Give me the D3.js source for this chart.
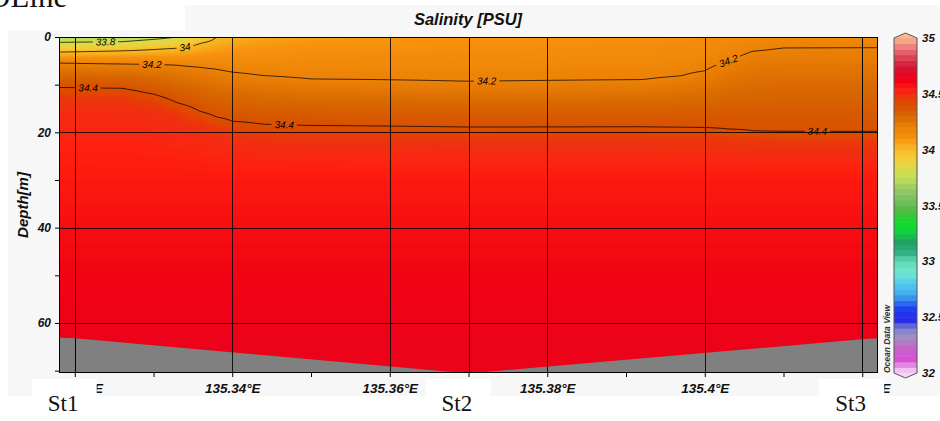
<!DOCTYPE html>
<html>
<head>
<meta charset="utf-8">
<script src="https://cdn.jsdelivr.net/npm/d3@7"></script>
<style>
  html, body { margin: 0; padding: 0; background: #fff; }
  svg { display: block; }
</style>
</head>
<body>
<svg id="chart" width="940" height="421"></svg>
<script>
// ---- Salinity section St1 - St2 - St3 (profiles given as isohaline depths) ----

// longitude of each gridded profile column
const columnLon = [135.318, 135.326, 135.330, 135.333, 135.336, 135.338, 135.340, 135.344, 135.350,
                   135.370, 135.392, 135.397, 135.400, 135.403, 135.406, 135.410, 135.422];
// salinity at the sea surface for each column
const surfaceSalinity = [33.70, 33.71, 33.75, 33.80, 33.90, 34.00, 34.03, 34.06, 34.08,
                         34.10, 34.11, 34.12, 34.13, 34.14, 34.15, 34.16, 34.16];
// depth [m] of each isohaline per column (null where it outcrops)
const depthOf33_8 = [1.13, 1.0, 0.5, null, null, null, null, null, null,
                     null, null, null, null, null, null, null, null];
const depthOf34_0 = [3.15, 2.9, 2.6, 2.3, 1.3, null, null, null, null,
                     null, null, null, null, null, null, null, null];
const depthOf34_2 = [5.46, 5.6, 5.7, 5.9, 6.35, 6.75, 7.35, 8.1, 8.8,
                     9.3, 9.0, 8.2, 7.1, 5.0, 3.0, 2.25, 2.2];
const depthOf34_4 = [10.58, 10.75, 12.0, 13.8, 15.7, 16.8, 17.7, 18.35, 18.6,
                     18.9, 18.85, 18.95, 19.05, 19.3, 19.7, 19.85, 19.9];
const depthOf34_47 = [12.6, 12.8, 14.0, 15.8, 17.7, 18.8, 19.7, 20.4, 20.6,
                      20.9, 20.9, 21.0, 21.1, 21.3, 21.7, 21.9, 21.9];
const depthOf34_5 = [15.6, 15.8, 17.0, 18.8, 20.7, 21.8, 22.7, 23.4, 23.6,
                     23.9, 23.9, 24.0, 24.1, 24.3, 24.7, 24.9, 24.9];
const isoLevels = [33.8, 34.0, 34.2, 34.4, 34.47, 34.5];
const isoDepths = [depthOf33_8, depthOf34_0, depthOf34_2, depthOf34_4, depthOf34_47, depthOf34_5];
// deep layer, nearly uniform along the section
const deepDepths = [30, 40, 50, 60, 71];
const deepSalinity = [34.55, 34.59, 34.62, 34.64, 34.65];

// sea floor
const bottomLon = [135.318, 135.32, 135.37, 135.42, 135.422];
const bottomDepth = [63.1, 63.2, 70.6, 63.4, 63.2];

// stations
const stationNames = ["St1", "St2", "St3"];
const stationLon = [135.32, 135.37, 135.42];

// contour lines and their labels
const lineLevels = [33.8, 34.0, 34.2, 34.4];
const labelLevels = [33.8, 34.0, 34.2, 34.4, 34.4, 34.2, 34.2, 34.4];
const labelLon = [135.3239, 135.3340, 135.3298, 135.3217, 135.3466, 135.3723, 135.4030, 135.4143];

// axis ticks
const depthTicks = [0, 10, 20, 30, 40, 50, 60, 70];
const depthLabels = [0, 20, 40, 60];
const lonTicks = [135.32, 135.33, 135.34, 135.35, 135.36, 135.37, 135.38, 135.39, 135.40, 135.41, 135.42];
const lonLabels = [135.32, 135.34, 135.36, 135.38, 135.40, 135.42];
const colorbarTicks = [32, 32.5, 33, 33.5, 34, 34.5, 35];

// ODV-like palette
const paletteValues = [32.00, 32.04, 32.12, 32.22, 32.32, 32.40, 32.48, 32.58, 32.70, 32.80, 32.90,
                       33.00, 33.08, 33.18, 33.26, 33.36, 33.45, 33.55, 33.65, 33.75, 33.85, 33.95,
                       34.05, 34.10, 34.20, 34.30, 34.38, 34.44, 34.49, 34.53, 34.58, 34.63,
                       34.72, 34.80, 34.88, 35.00];
const paletteColors = ["#f6d8f6", "#eeb4ee", "#d850d8", "#c860c8", "#a090c0", "#8080d0", "#2428e8", "#2040f0", "#40a8f0", "#50c8f0", "#70e8d0",
                       "#60d8b8", "#30b080", "#20a060", "#10d040", "#10e028", "#50b840", "#78c060", "#98c868", "#c0e058", "#e0d848", "#f8c830",
                       "#f8ac1c", "#f8920e", "#ec8206", "#d86800", "#d85400", "#e04800", "#f03010", "#ff2010", "#f81010", "#f00014",
                       "#d81030", "#d83048", "#e86070", "#f8b890"];

// ---------------------------------------------------------------------------
const svg = d3.select("#chart");
const plot = { left: 59, top: 37, right: 878, bottom: 373 };
const x = d3.scaleLinear().domain([135.318, 135.422]).range([plot.left, plot.right]);
const y = d3.scaleLinear().domain([0, 70.5]).range([plot.top, plot.bottom]);
const color = d3.scaleLinear().domain(paletteValues).range(paletteColors)
  .interpolate(d3.interpolateRgb).clamp(true);

const SANS = "'Liberation Sans', Arial, sans-serif";
const SERIF = "'Liberation Serif', 'DejaVu Serif', serif";

// backgrounds
svg.append("rect").attr("width", 940).attr("height", 421).attr("fill", "#fff");
svg.append("rect").attr("x", 8).attr("y", 5).attr("width", 932).attr("height", 391).attr("fill", "#f7f7f7");
svg.append("rect").attr("x", 0).attr("y", 0).attr("width", 185).attr("height", 30).attr("fill", "#fff");
svg.append("text").attr("x", -12).attr("y", 7).attr("font-family", SERIF).attr("font-size", 31)
  .attr("fill", "#111").text("OLine");

const defs = svg.append("defs");
defs.append("clipPath").attr("id", "plotClip").append("rect")
  .attr("x", plot.left).attr("y", plot.top)
  .attr("width", plot.right - plot.left).attr("height", plot.bottom - plot.top);

// each column as a piecewise-linear salinity profile
const profiles = columnLon.map((lon, j) => {
  const knots = [[0, surfaceSalinity[j]]];
  isoLevels.forEach((lev, k) => {
    const d = isoDepths[k][j];
    if (d != null && d > 0 && lev > surfaceSalinity[j]) knots.push([d, lev]);
  });
  deepDepths.forEach((d, k) => knots.push([d, deepSalinity[k]]));
  knots.sort((a, b) => a[0] - b[0]);
  return d3.scaleLinear().domain(knots.map(k => k[0])).range(knots.map(k => k[1])).clamp(true);
});

function salinityAt(lon, depth) {
  const i = d3.bisectRight(columnLon, lon);
  if (i <= 0) return profiles[0](depth);
  if (i >= columnLon.length) return profiles[columnLon.length - 1](depth);
  const t = (lon - columnLon[i - 1]) / (columnLon[i] - columnLon[i - 1]);
  return profiles[i - 1](depth) * (1 - t) + profiles[i](depth) * t;
}

// gridded field
const sx = 3, sy = 2;
const x0 = plot.left - sx, y0 = plot.top - sy;
const nx = Math.ceil((plot.right + sx - x0) / sx) + 1;
const ny = Math.ceil((plot.bottom + sy - y0) / sy) + 1;
const values = new Array(nx * ny);
for (let j = 0; j < ny; j++) {
  const dep = Math.max(0, y.invert(y0 + j * sy));
  for (let i = 0; i < nx; i++) values[j * nx + i] = salinityAt(x.invert(x0 + i * sx), dep);
}
const toPx = (gx, gy) => [x0 + (gx - 0.5) * sx, y0 + (gy - 0.5) * sy];
const path = d3.geoPath(d3.geoTransform({
  point(gx, gy) { const p = toPx(gx, gy); this.stream.point(p[0], p[1]); }
}));
const contours = d3.contours().size([nx, ny]);

const plotG = svg.append("g").attr("clip-path", "url(#plotClip)");
const bandLevels = d3.range(0, 111).map(k => +(33.60 + k * 0.01).toFixed(2));
plotG.append("rect").attr("x", plot.left).attr("y", plot.top)
  .attr("width", plot.right - plot.left).attr("height", plot.bottom - plot.top)
  .attr("fill", color(33.6));
plotG.append("g").selectAll("path")
  .data(contours.thresholds(bandLevels)(values))
  .join("path").attr("d", path).attr("fill", d => color(d.value + 0.005));

// contour lines
const lineGeoms = lineLevels.map(l => contours.contour(values, l));
function contourYAt(geom, px) {
  let best = null;
  geom.coordinates.forEach(poly => poly.forEach(ring => {
    for (let k = 0; k < ring.length - 1; k++) {
      const a = toPx(ring[k][0], ring[k][1]), b = toPx(ring[k + 1][0], ring[k + 1][1]);
      if (a[0] === b[0] || (a[0] - px) * (b[0] - px) > 0) continue;
      const t = (px - a[0]) / (b[0] - a[0]);
      const yy = a[1] + t * (b[1] - a[1]);
      if (yy > plot.top + 0.5 && yy < plot.bottom - 0.5 && best === null) best = yy;
    }
  }));
  return best;
}

const mask = defs.append("mask").attr("id", "labelGaps").attr("maskUnits", "userSpaceOnUse")
  .attr("x", 0).attr("y", 0).attr("width", 940).attr("height", 421);
mask.append("rect").attr("width", 940).attr("height", 421).attr("fill", "#fff");

plotG.append("g").attr("mask", "url(#labelGaps)").selectAll("path")
  .data(lineGeoms).join("path").attr("d", path)
  .attr("fill", "none").attr("stroke", "#000").attr("stroke-opacity", 0.72).attr("stroke-width", 1);

const labelG = plotG.append("g");
labelLevels.forEach((lev, k) => {
  const geom = lineGeoms[lineLevels.indexOf(lev)];
  const px = x(labelLon[k]);
  const py = contourYAt(geom, px);
  if (py === null) return;
  const ya = contourYAt(geom, px - 6), yb = contourYAt(geom, px + 6);
  const ang = (ya !== null && yb !== null) ? Math.atan2(yb - ya, 12) * 180 / Math.PI : 0;
  const t = labelG.append("text")
    .attr("transform", `translate(${px},${py}) rotate(${ang})`)
    .attr("text-anchor", "middle").attr("dy", "0.35em")
    .attr("font-family", SANS).attr("font-style", "italic").attr("font-size", 10)
    .attr("fill", "#000").text(String(lev));
  const w = t.node().getComputedTextLength() + 6;
  mask.append("rect").attr("x", -w / 2).attr("y", -4).attr("width", w).attr("height", 8)
    .attr("transform", `translate(${px},${py}) rotate(${ang})`).attr("fill", "#000");
});

// sea floor
const floorArea = d3.area().x((d, i) => x(bottomLon[i])).y0(plot.bottom + 2).y1((d) => y(d));
plotG.append("path").datum(bottomDepth).attr("d", floorArea).attr("fill", "#808080");

// grid
const gridG = svg.append("g").attr("stroke", "#000").attr("stroke-opacity", 0.85).attr("stroke-width", 1);
[20, 40, 60].forEach(d => gridG.append("line")
  .attr("x1", plot.left).attr("x2", plot.right).attr("y1", Math.round(y(d)) + 0.5).attr("y2", Math.round(y(d)) + 0.5));
[...lonLabels, ...stationLon].forEach(l => gridG.append("line")
  .attr("x1", Math.round(x(l)) + 0.5).attr("x2", Math.round(x(l)) + 0.5).attr("y1", plot.top).attr("y2", plot.bottom));

// frame
svg.append("rect").attr("x", plot.left + 0.5).attr("y", plot.top + 0.5)
  .attr("width", plot.right - plot.left - 1).attr("height", plot.bottom - plot.top - 1)
  .attr("fill", "none").attr("stroke", "#000").attr("stroke-width", 1);

// axes
const yAxis = svg.append("g").attr("transform", `translate(${plot.left},0)`)
  .call(d3.axisLeft(y).tickValues(depthTicks).tickSize(4).tickPadding(4)
    .tickFormat(d => depthLabels.includes(d) ? d : ""));
const xAxis = svg.append("g").attr("transform", `translate(0,${plot.bottom})`)
  .call(d3.axisBottom(x).tickValues(lonTicks).tickSize(4).tickPadding(6)
    .tickFormat(d => lonLabels.some(v => Math.abs(v - d) < 1e-6) ? String(+d.toFixed(2)) + "°E" : ""));
[yAxis, xAxis].forEach(a => {
  a.select(".domain").remove();
  a.selectAll("line").attr("stroke", "#000");
  a.selectAll("text").attr("font-family", SANS).attr("font-weight", "bold")
    .attr("font-style", "italic").attr("fill", "#111");
});
yAxis.selectAll("text").attr("font-size", 12);
xAxis.selectAll("text").attr("font-size", 13.5);

svg.append("text").attr("transform", `translate(28,${(plot.top + plot.bottom) / 2}) rotate(-90)`)
  .attr("text-anchor", "middle").attr("font-family", SANS).attr("font-weight", "bold")
  .attr("font-style", "italic").attr("font-size", 15).attr("fill", "#111").text("Depth[m]");

svg.append("text").attr("x", 468).attr("y", 25).attr("text-anchor", "middle")
  .attr("font-family", SANS).attr("font-weight", "bold").attr("font-style", "italic")
  .attr("font-size", 16.5).attr("fill", "#111").text("Salinity [PSU]");

// colour bar
const cb = { x: 894, w: 23, top: 38, bottom: 373 };
const cs = d3.scaleLinear().domain([32, 35]).range([cb.bottom, cb.top]);
const cbG = svg.append("g");
const cbSteps = d3.range(0, 60).map(k => 32 + k * 0.05);
cbG.selectAll("rect").data(cbSteps).join("rect")
  .attr("x", cb.x).attr("width", cb.w)
  .attr("y", d => cs(d + 0.05)).attr("height", d => cs(d) - cs(d + 0.05) + 0.5)
  .attr("fill", d => color(d + 0.025));
const mid = cb.x + cb.w / 2;
cbG.append("path").attr("d", `M${cb.x},${cb.top}L${mid},${cb.top - 5}L${cb.x + cb.w},${cb.top}Z`).attr("fill", color(35));
cbG.append("path").attr("d", `M${cb.x},${cb.bottom}L${mid},${cb.bottom + 5}L${cb.x + cb.w},${cb.bottom}Z`).attr("fill", color(32));
cbG.append("path")
  .attr("d", `M${cb.x},${cb.bottom}L${cb.x},${cb.top}L${mid},${cb.top - 5}L${cb.x + cb.w},${cb.top}L${cb.x + cb.w},${cb.bottom}L${mid},${cb.bottom + 5}Z`)
  .attr("fill", "none").attr("stroke", "#555").attr("stroke-width", 1);
cbG.selectAll("text").data(colorbarTicks).join("text")
  .attr("x", 922).attr("y", d => cs(d)).attr("dy", "0.35em")
  .attr("font-family", SANS).attr("font-weight", "bold").attr("font-style", "italic")
  .attr("font-size", 11.5).attr("fill", "#111").text(d => String(d));
svg.append("text").attr("transform", "translate(890,373) rotate(-90)")
  .attr("font-family", SANS).attr("font-style", "italic").attr("font-weight", "bold")
  .attr("font-size", 8.5).attr("fill", "#333").text("Ocean Data View");

// station name boxes under the axis
stationLon.forEach((lon, k) => {
  const cx = x(lon);
  svg.append("rect").attr("x", cx - 43).attr("y", 379).attr("width", 65).attr("height", 42).attr("fill", "#fff");
  svg.append("text").attr("x", cx - 27).attr("y", 411).attr("font-family", SERIF)
    .attr("font-size", 23).attr("fill", "#111").text(stationNames[k]);
});
</script>
</body>
</html>
